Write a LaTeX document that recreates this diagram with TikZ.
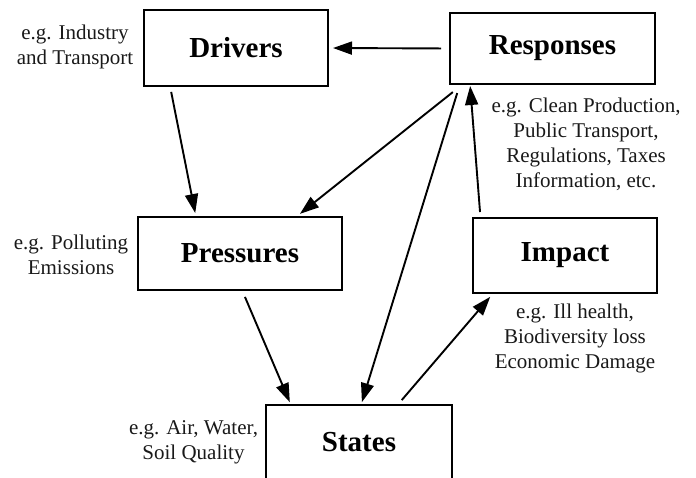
\documentclass[tikz,border=0pt]{standalone}
\usepackage{fontspec}
\setmainfont{Liberation Serif}
\usepackage{tikz}
\usetikzlibrary{arrows.meta}
\pgfdeclarelayer{edgelayer}
\pgfdeclarelayer{nodelayer}
\pgfsetlayers{edgelayer,nodelayer,main}
\tikzstyle{box}=[rectangle,fill=white,draw=black,line width=2.2pt,outer sep=0pt,font=\fontsize{29}{32}\selectfont\bfseries]
\tikzstyle{note}=[align=center,inner sep=0pt,text=black!90,font=\fontsize{21}{25}\selectfont]
\tikzstyle{cause}=[-{Triangle[length=19pt,width=13pt]},draw=black,line width=1.9pt]

\begin{document}
\begin{tikzpicture}[x=1pt,y=-1pt]
	\useasboundingbox (0,0) rectangle (696,478);
	\begin{pgfonlayer}{nodelayer}
		\clip (0,0) rectangle (696,478);
		\node [style=box, minimum width=184pt, minimum height=76pt] (0) at (236, 48) {Drivers};
		\node [style=box, minimum width=205pt, minimum height=71pt] (1) at (552.5, 48.5) {Responses};
		\node [style=box, minimum width=204pt, minimum height=73pt] (2) at (240, 253.5) {Pressures};
		\node [style=box, minimum width=184pt, minimum height=75pt] (3) at (565, 255.5) {Impact};
		\node [style=box, minimum width=186pt, minimum height=75pt] (4) at (359, 442.5) {States};
		\node [style=note] (5) at (75, 46.5) {e.g. Industry\\and Transport};
		\node [style=note] (6) at (586, 144) {e.g. Clean Production,\\Public Transport,\\Regulations, Taxes\\Information, etc.};
		\node [style=note] (7) at (71, 254.5) {e.g. Polluting\\Emissions};
		\node [style=note] (8) at (575, 338) {e.g. Ill health,\\Biodiversity loss\\Economic Damage};
		\node [style=note] (9) at (193.5, 442.5) {e.g. Air, Water,\\Soil Quality};
	\end{pgfonlayer}
	\begin{pgfonlayer}{edgelayer}
		\draw [style=cause, shorten <=9pt, shorten >=5pt] (1.west) to (0.east);
		\draw [style=cause, shorten <=6pt, shorten >=4pt] ([xshift=-66pt]0.south) to ([xshift=-44pt]2.north);
		\draw [style=cause, shorten <=13pt, shorten >=5pt] ([xshift=-89.5pt]1.south) to ([xshift=56pt]2.north);
		\draw [style=cause, shorten <=9.5pt, shorten >=3pt] ([xshift=-92.5pt]1.south) to ([xshift=2pt]4.north);
		\draw [style=cause, shorten <=6pt, shorten >=2pt] ([xshift=-84.5pt]3.north) to ([xshift=-82.5pt]1.south);
		\draw [style=cause, shorten <=7.5pt, shorten >=3pt] ([xshift=2pt]2.south) to ([xshift=-68pt]4.north);
		\draw [style=cause, shorten <=6.5pt, shorten >=5pt] ([xshift=38.5pt]4.north) to ([xshift=-71.5pt]3.south);
	\end{pgfonlayer}
\end{tikzpicture}
\end{document}
